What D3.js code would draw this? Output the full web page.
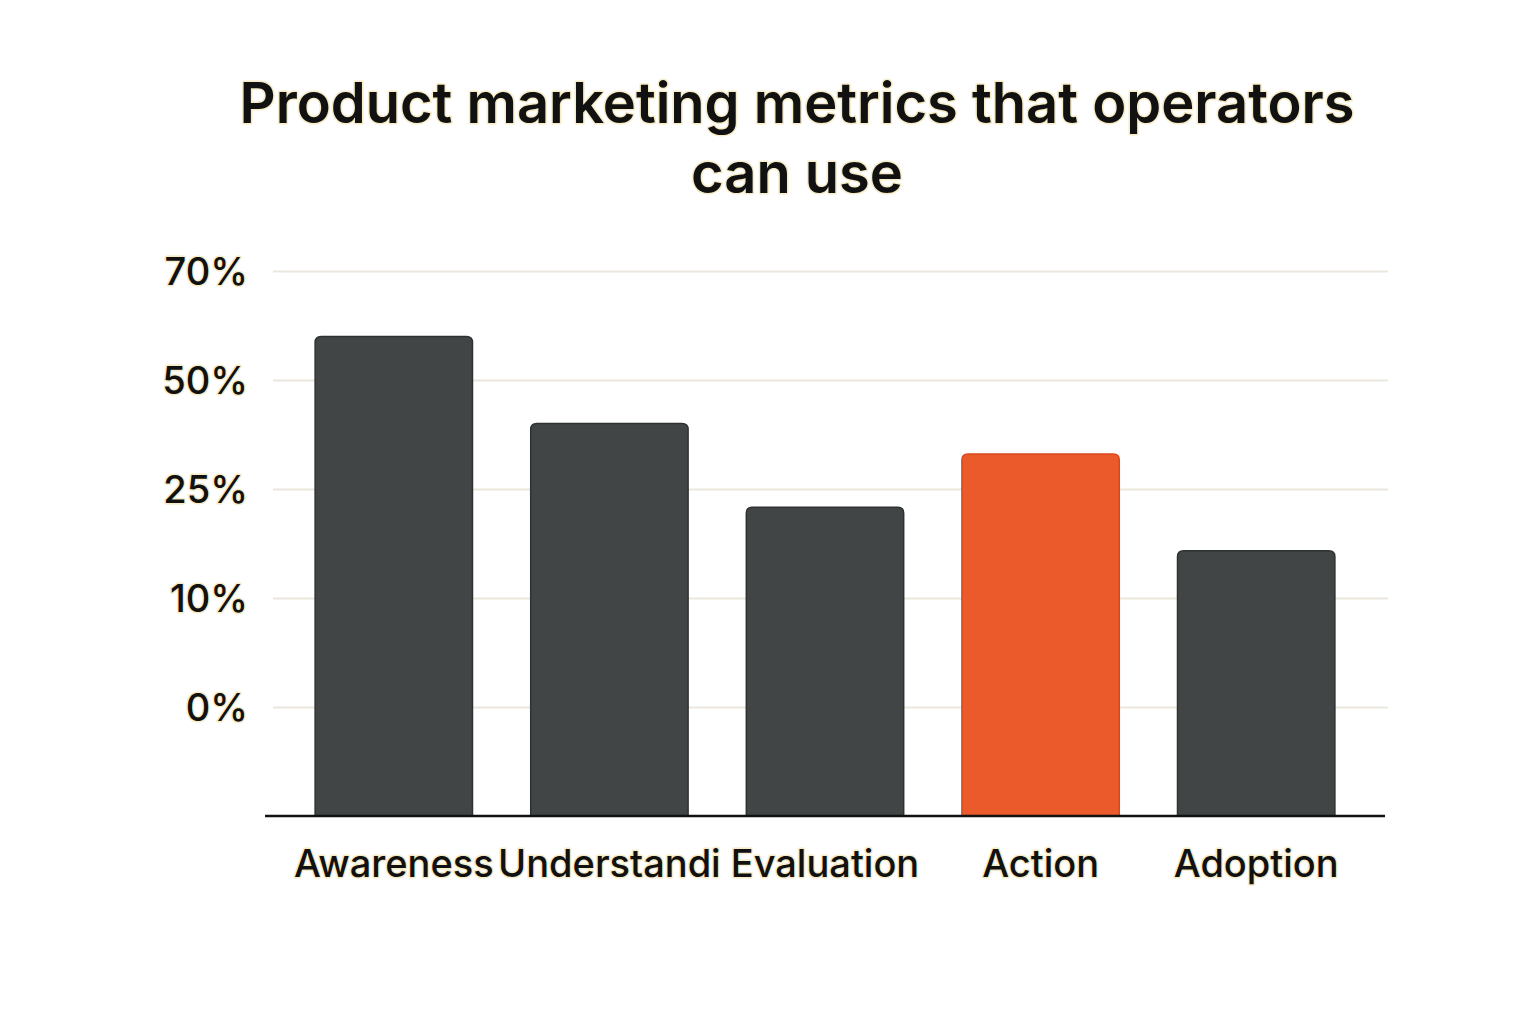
<!DOCTYPE html>
<html>
<head>
<meta charset="UTF-8" />
<title>Product marketing metrics</title>
<script src="https://d3js.org/d3.v7.min.js"></script>
<style>
  body { margin: 0; background: #fff; }
  text { font-family: Inter, "Noto Sans", sans-serif; fill: #111; paint-order: stroke; stroke: #f6ecc8; stroke-width: 3px; stroke-linejoin: round; }
</style>
</head>
<body>
<svg id="chart" width="1536" height="1024"></svg>
<script>
// data
const stages = ["Awareness", "Understandi", "Evaluation", "Action", "Adoption"]
const values = [58, 40, 22.5, 33, 16.5]
const highlight = ["Action"]
// tick values of the (uneven) y axis, bottom to top
const tickValues = [0, 10, 25, 50, 70]
const baseValue = -10

const titleLines = ["Product marketing metrics that operators", "can use"]

const dark = "#414545"
const orange = "#ea5a2b"
const gridColor = "#ece7dc"

const svg = d3.select("#chart")

const baseY = 816, stepY = 109
// each tick sits one grid step above the previous one
const yDomain = [baseValue].concat(tickValues)
const y = d3.scaleLinear()
  .domain(yDomain)
  .range(yDomain.map((d, i) => baseY - i * stepY))

const x = d3.scaleBand()
  .domain(stages)
  .range([272, 1378])
  .paddingInner(0.27)
  .paddingOuter(0.2)

// title
svg.append("g").selectAll("text")
  .data(titleLines)
  .join("text")
  .attr("x", 797)
  .attr("y", (d, i) => 123 + i * 70)
  .attr("text-anchor", "middle")
  .style("font-size", "56px")
  .style("font-weight", 600)
  .text(d => d)

// grid + y labels
const yAxis = d3.axisLeft(y).tickValues(tickValues).tickSize(-1115).tickFormat(d => d + "%")
const yg = svg.append("g").attr("transform", "translate(273,0)").call(yAxis)
yg.select(".domain").remove()
yg.selectAll(".tick line").attr("stroke", gridColor).attr("stroke-width", 2)
yg.selectAll(".tick text")
  .attr("x", -25)
  .attr("dy", "0.35em")
  .style("font-size", "38px")
  .style("font-weight", 500)
  .style("font-family", "Inter, sans-serif")

// bars: rounded top corners, flat bottom
function barPath(x0, y0, w, h, r) {
  return `M${x0},${y0 + h} V${y0 + r} Q${x0},${y0} ${x0 + r},${y0} H${x0 + w - r} Q${x0 + w},${y0} ${x0 + w},${y0 + r} V${y0 + h} Z`
}
svg.append("g").selectAll("path")
  .data(stages)
  .join("path")
  .attr("d", (d, i) => barPath(x(d), y(values[i]), x.bandwidth(), y(baseValue) - y(values[i]), 6))
  .attr("fill", d => highlight.includes(d) ? orange : dark)
  .attr("stroke", d => highlight.includes(d) ? "#d9481c" : "#2f3232")
  .attr("stroke-width", 1.5)

// x axis
const xAxis = d3.axisBottom(x).tickSize(0).tickPadding(34)
const xg = svg.append("g").attr("transform", `translate(0,${y(baseValue)})`).call(xAxis)
xg.select(".domain").remove()
xg.append("line")
  .attr("x1", 265).attr("x2", 1385)
  .attr("stroke", "#111").attr("stroke-width", 2.5)
xg.selectAll(".tick text")
  .style("font-size", "38px")
  .style("font-weight", 500)
  .style("font-family", "Inter, sans-serif")
</script>
</body>
</html>
